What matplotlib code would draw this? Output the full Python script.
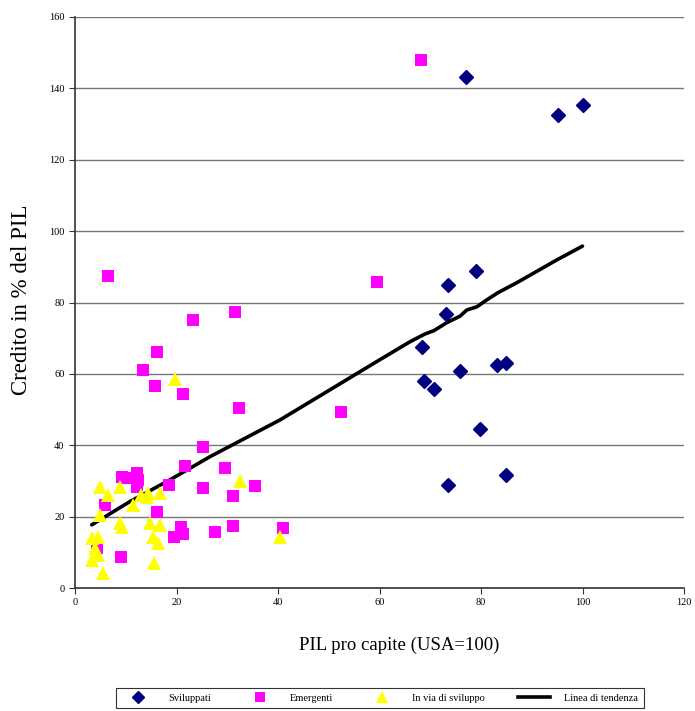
import matplotlib
matplotlib.use("Agg")
import matplotlib.pyplot as plt
from matplotlib.lines import Line2D

plt.rcParams['font.family'] = ['Liberation Serif', 'DejaVu Serif']

# Sviluppati (navy diamonds)
svil_x = [77.0, 95.2, 100.0, 79.0, 73.4, 73.1, 68.4, 84.9, 83.2, 75.9, 68.8, 70.7, 79.8, 84.9, 73.4]
svil_y = [143.3, 132.5, 135.4, 88.9, 84.9, 76.7, 67.6, 63.1, 62.5, 60.8, 58.1, 55.8, 44.6, 31.7, 28.9]

# Emergenti (magenta squares)
emer_x = [68.2, 59.5, 52.4, 6.6, 23.2, 31.5, 16.2, 13.4, 15.8, 21.2, 32.3, 25.2,
          21.7, 29.6, 35.5, 25.2, 31.1, 18.5, 16.1, 9.2, 10.5, 12.2, 12.5, 12.2,
          5.9, 4.3, 9.1, 27.5, 31.1, 41.0, 20.9, 21.3, 19.6]
emer_y = [147.9, 85.7, 49.3, 87.5, 75.2, 77.4, 66.2, 61.2, 56.7, 54.4, 50.5, 39.4,
          34.2, 33.7, 28.7, 28.0, 25.8, 28.8, 21.4, 31.0, 30.7, 32.1, 30.2, 28.3,
          23.2, 11.1, 8.6, 15.7, 17.4, 16.9, 17.0, 15.1, 14.2]

# In via di sviluppo (yellow triangles)
ivs_x = [4.9, 6.6, 8.9, 4.9, 3.3, 4.6, 3.9, 4.6, 3.3, 5.6, 8.9, 9.2, 11.5, 13.1,
         14.1, 14.4, 16.7, 14.8, 16.7, 15.4, 16.4, 15.6, 32.5, 40.4, 19.8]
ivs_y = [28.4, 26.1, 28.4, 20.5, 13.9, 14.4, 11.1, 9.2, 7.8, 4.3, 18.1, 17.0, 23.3, 26.1,
         25.6, 26.5, 26.7, 18.1, 17.7, 14.4, 12.5, 6.9, 30.0, 14.4, 58.5]

# Linea di tendenza
trend_x = [3.3, 10.8, 18.7, 26.6, 40.4, 50.2, 59.4, 66.0, 69.0, 70.7, 73.2, 75.9,
           77.2, 79.2, 81.1, 83.4, 87.0, 94.9, 100.0]
trend_y = [17.7, 24.2, 30.3, 36.8, 47.1, 55.5, 63.4, 69.0, 71.2, 72.1, 74.3, 76.2,
           77.9, 78.8, 80.7, 82.8, 85.5, 91.9, 95.8]

x_ticks = [0, 20, 40, 60, 80, 100, 120]
y_ticks = [0, 20, 40, 60, 80, 100, 120, 140, 160]

W, H = 695, 711
fig = plt.figure(figsize=(W / 100, H / 100), dpi=100)
ax = fig.add_axes([75 / W, 1 - 588 / H, (684 - 75) / W, (588 - 17) / H])

ax.set_xlim(0, 120)
ax.set_ylim(0, 160)
ax.set_xticks(x_ticks)
ax.set_yticks(y_ticks)
ax.yaxis.grid(True, color='#777777', linewidth=1.0)
ax.set_axisbelow(True)
for s in ['top', 'right']:
    ax.spines[s].set_visible(False)
for s in ['left', 'bottom']:
    ax.spines[s].set_color('#333333')
    ax.spines[s].set_linewidth(1.2)
ax.tick_params(axis='both', labelsize=7.5, length=4, direction='out', color='#333333')

ax.plot(trend_x, trend_y, color='black', linewidth=2.6, solid_capstyle='round', zorder=3)
ax.plot(svil_x, svil_y, linestyle='none', marker='D', markersize=7.3,
        color='#000080', zorder=4)
ax.plot(emer_x, emer_y, linestyle='none', marker='s', markersize=8.4,
        color='#FF00FF', markeredgewidth=0, zorder=4)
ax.plot(ivs_x, ivs_y, linestyle='none', marker='^', markersize=10.0,
        color='#FFFF00', markeredgewidth=0, zorder=5)

fig.text(399 / W, 1 - 645 / H, 'PIL pro capite (USA=100)', fontsize=13.5,
         ha='center', va='center')
fig.text(22 / W, 1 - 300 / H, 'Credito in % del PIL', fontsize=16.5,
         ha='center', va='center', rotation=90)

handles = [
    Line2D([], [], linestyle='none', marker='D', markersize=6, color='#000080'),
    Line2D([], [], linestyle='none', marker='s', markersize=6.5, color='#FF00FF', markeredgewidth=0),
    Line2D([], [], linestyle='none', marker='^', markersize=8.5, color='#FFFF00', markeredgewidth=0),
    Line2D([], [], color='black', linewidth=2.6),
]
labels = ['Sviluppati', 'Emergenti', 'In via di sviluppo', 'Linea di tendenza']
leg = fig.legend(handles, labels, loc='center', ncol=4,
                 bbox_to_anchor=(380 / W, 1 - 698 / H), fontsize=7.5,
                 frameon=True, fancybox=False, edgecolor='black',
                 handlelength=3.0, columnspacing=3.2, borderpad=0.55,
                 handletextpad=1.4)
leg.get_frame().set_linewidth(0.8)

fig.savefig('out.png', dpi=100)
